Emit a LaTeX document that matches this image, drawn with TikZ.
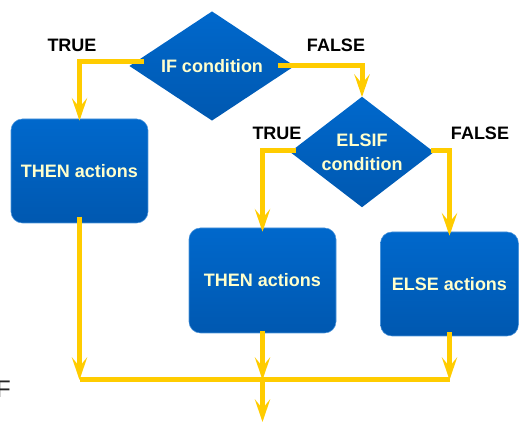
\documentclass[tikz,border=0pt]{standalone}
\usepackage{fontspec}
\setmainfont{Liberation Sans}
\usetikzlibrary{shapes.geometric,arrows.meta}

\definecolor{boxtop}{RGB}{0,104,204}
\definecolor{boxbot}{RGB}{0,88,176}
\definecolor{boxtext}{RGB}{255,255,204}
\definecolor{flowyellow}{RGB}{255,204,0}

\tikzset{
  actionbox/.style={rectangle, rounded corners=8.5pt, top color=boxtop, bottom color=boxbot,
    draw=boxtop!70!white, line width=0.4pt, text=boxtext, font=\fontsize{13.5}{16}\selectfont\bfseries,
    align=center, inner sep=0pt},
  decision/.style={diamond, top color=boxtop, bottom color=boxbot, text=boxtext,
    font=\fontsize{13.5}{16.5}\selectfont\bfseries, align=center, inner sep=0pt, aspect=1.5},
  branchlabel/.style={font=\fontsize{13.5}{16}\selectfont\bfseries, inner sep=0pt},
  flowline/.style={draw=flowyellow, line width=3.75pt},
  flowarrow/.style={flowline, -{Stealth[length=17pt, width=11.5pt, inset=7pt, flowyellow]}},
}

\begin{document}
\begin{tikzpicture}[x=0.75pt,y=0.75pt,yscale=-1,xscale=1]
\useasboundingbox (0,0) rectangle (519,423);

% Decisions
\node [decision, minimum width=124pt, minimum height=82pt] (ifcond) at (212,66) {IF condition};
\node [decision, minimum width=108pt, minimum height=83pt] (elsifcond) at (362,152) {ELSIF\\[1.5pt]condition};

% Actions
\node [actionbox, minimum width=102.75pt, minimum height=78pt] (then1) at (79.5,171) {THEN actions};
\node [actionbox, minimum width=110.25pt, minimum height=78.75pt] (then2) at (262.5,280.5) {THEN actions};
\node [actionbox, minimum width=103.5pt, minimum height=78pt] (else) at (449.5,284) {ELSE actions};

% Text Node
\node [branchlabel] (true1) at (72,45) {TRUE};
% Text Node
\node [branchlabel] (false1) at (336,45) {FALSE};
% Text Node
\node [branchlabel] (true2) at (277,133) {TRUE};
% Text Node
\node [branchlabel] (false2) at (480,133) {FALSE};
% Text Node
\node [anchor=east, inner sep=0pt, font=\fontsize{18}{20}\selectfont, text=black!85] (cutf) at (11,389) {F};

% Join points
\coordinate (join) at (then2.south |- 0,380);
\coordinate (exit) at (then2.south |- 0,422);

% Connection
\draw [flowarrow] (ifcond.west) ++(15,-4) -| ([yshift=1.5pt]then1.north);
% Connection
\draw [flowarrow] (ifcond.east) ++(-17,0) -| ([yshift=0.5pt]elsifcond.north);
% Connection
\draw [flowarrow] (elsifcond.west) ++(6,-1.5) -| ([yshift=3pt]then2.north);
% Connection
\draw [flowarrow] (elsifcond.east) ++(-3,-1.5) -| ([yshift=3pt]else.north);
% Connection
\draw [flowline] (then1.south |- join) -- (else.south |- join);
% Connection
\draw [flowarrow] ([yshift=-5pt]then1.south) -- (then1.south |- join);
% Connection
\draw [flowarrow] ([yshift=-2pt]then2.south) -- (join);
% Connection
\draw [flowarrow] ([yshift=-3pt]else.south) -- (else.south |- join);
% Connection
\draw [flowarrow] (join) -- (exit);

\end{tikzpicture}
\end{document}
